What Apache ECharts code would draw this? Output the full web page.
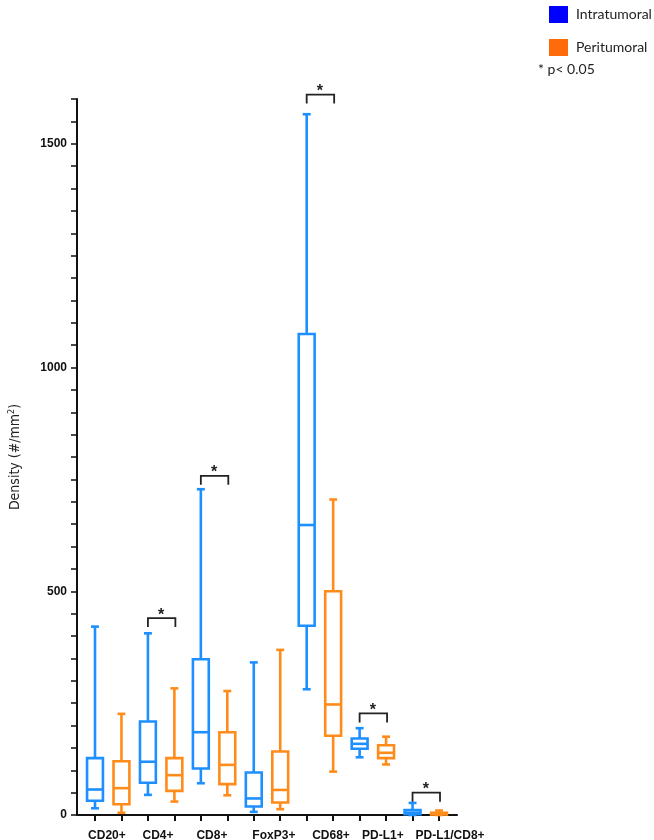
<!DOCTYPE html>
<html>
<head>
<meta charset="utf-8">
<style>
  html, body { margin: 0; padding: 0; background: #fff; }
  #chart { width: 654px; height: 840px; }
</style>
<script src="https://cdn.jsdelivr.net/npm/echarts@6/dist/echarts.min.js"></script>
</head>
<body>
<div id="chart"></div>
<script>
// categories on the x axis (two boxes each)
const categories = ['CD20+', 'CD4+', 'CD8+', 'FoxP3+', 'CD68+', 'PD-L1+', 'PD-L1/CD8+']
// [min, Q1, median, Q3, max]
const intratumoral = [
  [15, 32, 57, 127, 421],
  [45, 72, 119, 209, 406],
  [71, 104, 185, 348, 728],
  [7, 19, 37, 95, 341],
  [281, 423, 648, 1075, 1566],
  [129, 148, 159, 171, 194],
  [0, 2, 5, 11, 27]
]
const peritumoral = [
  [5, 24, 60, 120, 226],
  [30, 54, 89, 127, 283],
  [44, 69, 112, 185, 277],
  [13, 28, 56, 142, 369],
  [97, 177, 247, 500, 705],
  [113, 127, 139, 156, 175],
  [0, 1, 3, 5, 10]
]
// significance brackets: [category index, bracket height]
const brackets = [[1, 440], [2, 758], [4, 1610], [5, 227], [6, 50]]
const yLabels = [0, 500, 1000, 1500]

const blue = '#1e8fff'
const orange = '#ff8c1a'

// box position on the x axis: two slots per category
const boxX = (i, g) => 2 * i + g
const boxTicks = []
categories.forEach((c, i) => { boxTicks.push(boxX(i, 0), boxX(i, 1)) })
// where each category label sits on the x axis (the long ones drift right in the original)
const labelAt = [0.45, 2.38, 4.42, 6.76, 8.92, 10.88, 13.42]
// labels split over two axes so the close neighbours are not dropped
const labelPosA = labelAt.filter((v, i) => i % 2 === 0)
const labelPosB = labelAt.filter((v, i) => i % 2 === 1)

const renderBox = (params, api) => {
  const x = api.value(0)
  const pMin = api.coord([x, api.value(1)])
  const pQ1 = api.coord([x, api.value(2)])
  const pMed = api.coord([x, api.value(3)])
  const pQ3 = api.coord([x, api.value(4)])
  const pMax = api.coord([x, api.value(5)])
  const band = api.size([1, 0])[0]
  const w = band * 0.6
  const cap = w * 0.5
  const cx = pMed[0]
  const color = api.visual('color')
  const st = () => ({ stroke: color, fill: 'none', lineWidth: 2.6 })
  return {
    type: 'group',
    children: [
      { type: 'line', shape: { x1: cx, y1: pQ3[1], x2: cx, y2: pMax[1] }, style: st() },
      { type: 'line', shape: { x1: cx, y1: pQ1[1], x2: cx, y2: pMin[1] }, style: st() },
      { type: 'line', shape: { x1: cx - cap / 2, y1: pMax[1], x2: cx + cap / 2, y2: pMax[1] }, style: st() },
      { type: 'line', shape: { x1: cx - cap / 2, y1: pMin[1], x2: cx + cap / 2, y2: pMin[1] }, style: st() },
      { type: 'rect', shape: { x: cx - w / 2, y: pQ3[1], width: w, height: pQ1[1] - pQ3[1] }, style: st() },
      { type: 'line', shape: { x1: cx - w / 2, y1: pMed[1], x2: cx + w / 2, y2: pMed[1] }, style: st() }
    ]
  }
}

const renderBracket = (params, api) => {
  const i = api.value(0)
  const y = api.value(1)
  const p1 = api.coord([boxX(i, 0), y])
  const p2 = api.coord([boxX(i, 1), y])
  const drop = 9
  return {
    type: 'group',
    children: [
      {
        type: 'polyline',
        shape: { points: [[p1[0], p1[1] + drop], [p1[0], p1[1]], [p2[0] + 1, p2[1]], [p2[0] + 1, p2[1] + drop]] },
        style: { stroke: '#222', fill: 'none', lineWidth: 1.8 }
      },
      {
        type: 'text',
        style: {
          x: (p1[0] + p2[0]) / 2, y: p1[1] - 3, text: '*',
          fill: '#222', font: 'bold 16px "Liberation Sans"', textAlign: 'center', textVerticalAlign: 'middle'
        }
      }
    ]
  }
}

const labelStyle = {
  hideOverlap: false,
  formatter: v => categories[labelAt.indexOf(v)],
  color: '#111', fontSize: 12, fontWeight: 'bold', margin: 15
}

const chart = echarts.init(document.getElementById('chart'))
chart.setOption({
  animation: false,
  backgroundColor: '#fff',
  textStyle: { fontFamily: 'Liberation Sans' },
  legend: {
    orient: 'vertical',
    left: 544,
    top: 1,
    icon: 'rect',
    itemWidth: 19,
    itemHeight: 17,
    itemGap: 16,
    textStyle: { fontFamily: 'Lato', fontSize: 14, color: '#222', padding: [0, 0, 0, 3] },
    data: [
      { name: 'Intratumoral', itemStyle: { color: '#0000ff' } },
      { name: 'Peritumoral', itemStyle: { color: '#ff6a0a' } }
    ]
  },
  graphic: [
    {
      type: 'text', left: 538, top: 62,
      style: { text: '* p< 0.05', fill: '#222', font: '14px Lato' }
    }
  ],
  grid: { left: 77, right: 197, top: 99, bottom: 25, outerBoundsMode: 'none', containLabel: false },
  xAxis: [
    {
      type: 'value',
      min: -0.68,
      max: 13.68,
      splitLine: { show: false },
      axisLine: { onZero: false, lineStyle: { color: '#111', width: 2 } },
      axisTick: { show: true, customValues: boxTicks, length: 6, lineStyle: { color: '#111', width: 2 } },
      axisLabel: Object.assign({ customValues: labelPosA }, labelStyle)
    },
    {
      type: 'value',
      position: 'bottom',
      min: -0.68,
      max: 13.68,
      splitLine: { show: false },
      axisLine: { show: false },
      axisTick: { show: false },
      axisLabel: Object.assign({ customValues: labelPosB }, labelStyle)
    }
  ],
  yAxis: {
    type: 'value',
    min: 0,
    max: 1600,
    interval: 50,
    name: 'Density (#/mm{sup|2})',
    nameLocation: 'middle',
    nameGap: 54,
    nameTextStyle: {
      fontFamily: 'DejaVu Sans Condensed', fontSize: 14, color: '#222',
      rich: { sup: { fontFamily: 'DejaVu Sans Condensed', fontSize: 9, verticalAlign: 'top', padding: [0, 0, 7, 0] } }
    },
    splitLine: { show: false },
    axisLine: { show: true, onZero: false, lineStyle: { color: '#111', width: 2 } },
    axisTick: { show: true, length: 6, lineStyle: { color: '#111', width: 1.5 } },
    axisLabel: {
      formatter: v => (yLabels.includes(v) ? String(v) : ''),
      color: '#111', fontSize: 12, fontWeight: 'bold', margin: 10
    }
  },
  series: [
    {
      name: 'Intratumoral',
      type: 'custom',
      itemStyle: { color: blue },
      renderItem: renderBox,
      encode: { x: 0, y: [1, 2, 3, 4, 5] },
      data: intratumoral.map((d, i) => [boxX(i, 0), ...d])
    },
    {
      name: 'Peritumoral',
      type: 'custom',
      itemStyle: { color: orange },
      renderItem: renderBox,
      encode: { x: 0, y: [1, 2, 3, 4, 5] },
      data: peritumoral.map((d, i) => [boxX(i, 1), ...d])
    },
    {
      name: 'brackets',
      type: 'custom',
      clip: false,
      silent: true,
      renderItem: renderBracket,
      encode: { x: 0, y: 1 },
      data: brackets
    }
  ]
})
</script>
</body>
</html>
